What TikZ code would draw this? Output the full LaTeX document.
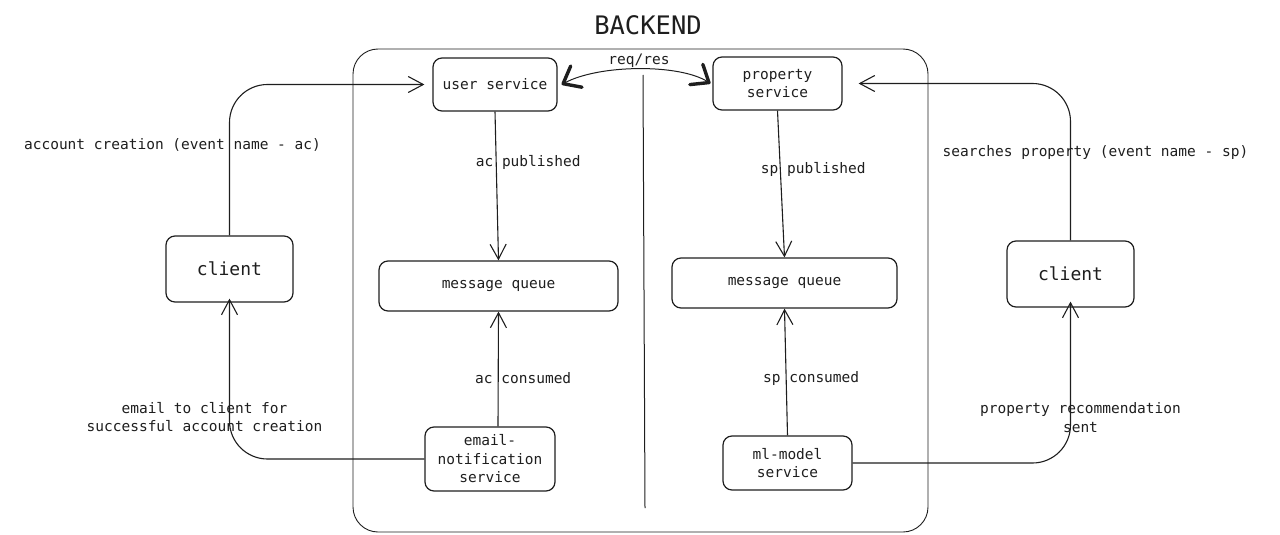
\documentclass[tikz,border=0pt]{standalone}
\usepackage{fontspec}
\setmonofont{DejaVu Sans Mono}
\usetikzlibrary{arrows.meta,positioning}
\definecolor{ink}{HTML}{1E1E1E}
\tikzset{
	svc/.style={draw=ink, line width=1.2pt, rounded corners=9pt, align=center, text=ink,
		font=\ttfamily\fontsize{14.5}{18.5}\selectfont, inner sep=0pt},
	lbl/.style={text=ink, align=center, font=\ttfamily\fontsize{14.5}{18.5}\selectfont},
	conn/.style={draw=ink, line width=1.1pt, -{Straight Barb[length=15pt,width=16pt]}},
	cornerconn/.style={conn, rounded corners=38pt},
	boldtip/.tip={Straight Barb[length=15pt,width=24pt,line width=3.4pt,round]}
}
\begin{document}
\begin{tikzpicture}[x=1pt,y=-1pt]
		\useasboundingbox (0,0) rectangle (1280,535);
		% backend frame
		\node (backend) [draw=ink, line width=0.9pt, rounded corners=25pt, minimum width=575pt, minimum height=483pt] at (640.5,290.5) {};
		\node (title) [text=ink, font=\ttfamily\fontsize{25.5}{30}\selectfont] at (648,25) {BACKEND};
		\coordinate (divtop) at (643,75);
		\coordinate (divbot) at (645,508);
		\draw[ink, line width=1pt] (divtop) -- (divbot);
		% services
		\node (usersvc) [svc, minimum width=124pt, minimum height=53pt] at (495,84.5) {user service};
		\node (propsvc) [svc, minimum width=129pt, minimum height=53pt] at (777.5,83.5) {property\\service};
		\node (mqleft) [svc, minimum width=239pt, minimum height=50pt] at (498.5,286) {message queue};
		\node (mqright) [svc, minimum width=225pt, minimum height=50pt] at (784.5,283) {message queue};
		\node (emailsvc) [svc, minimum width=130pt, minimum height=64pt] at (490,459) {email-\\notification\\service};
		\node (mlsvc) [svc, minimum width=129pt, minimum height=54pt] at (787.5,463) {ml-model\\service};
		\node (clientleft) [svc, minimum width=127pt, minimum height=66pt, font=\ttfamily\fontsize{18}{22}\selectfont] at (229.5,269) {client};
		\node (clientright) [svc, minimum width=127pt, minimum height=66pt, font=\ttfamily\fontsize{18}{22}\selectfont] at (1070.5,274) {client};
		% connectors
		\draw[ink, line width=1pt, boldtip-boldtip]
		([xshift=4pt]usersvc.east) .. controls (600,64) and (680,64) .. node [lbl, above=-2pt] {req/res} ([xshift=-2pt]propsvc.west);
		\path
		(usersvc.south) edge [conn] node [lbl, pos=0.34, xshift=32pt] {ac published} (mqleft.north)
		([xshift=8pt]emailsvc.north) edge [conn] node [lbl, pos=0.42, xshift=25pt] {ac consumed} (mqleft.south)
		(propsvc.south) edge [conn] node [lbl, pos=0.4, xshift=33pt] {sp published} (mqright.north)
		(mlsvc.north) edge [conn] node [lbl, pos=0.45, xshift=25pt] {sp consumed} (mqright.south)
		;
		\draw[cornerconn] (clientleft.north) |- node [lbl, pos=0.3, xshift=-57pt] {account creation (event name - ac)} ([xshift=-8pt]usersvc.west);
		\draw[cornerconn] (emailsvc.west) -| node [lbl, pos=0.63, xshift=-25pt] {email to client for\\successful account creation} ([yshift=4pt]clientleft.south);
		\draw[cornerconn] (clientright.north) |- node [lbl, pos=0.28, xshift=25pt] {searches property (event name - sp)} ([xshift=16pt]propsvc.east);
		\draw[cornerconn] (mlsvc.east) -| node [lbl, pos=0.64, xshift=10pt] {property recommendation\\sent} ([yshift=6pt]clientright.south);
\end{tikzpicture}
\end{document}
